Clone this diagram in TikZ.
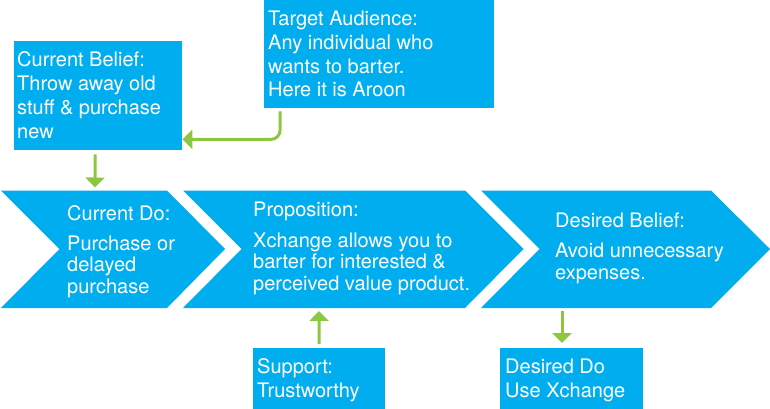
\documentclass[tikz,border=0pt]{standalone}
\usepackage{fontspec}
\setmainfont{TeX Gyre Heros}
\usetikzlibrary{arrows.meta}
\definecolor{cblue}{RGB}{0,174,239}
\definecolor{cgreen}{RGB}{141,198,63}
\tikzset{
  box/.style={fill=cblue, draw=none, inner sep=0pt, anchor=north west},
  chev/.style={fill=cblue, draw=none},
  txt/.style={text=white, inner sep=0pt, anchor=base west, align=left,
              font=\fontsize{20}{23.8}\selectfont},
  ctxt/.style={text=white, inner sep=0pt, anchor=base west, align=left,
              font=\fontsize{20}{21.5}\selectfont},
  arr/.style={draw=cgreen, line width=3pt, -{Triangle[width=19pt,length=10pt]}},
}
\begin{document}
\begin{tikzpicture}[x=1pt,y=-1pt]
\useasboundingbox (0,0) rectangle (770,409);
% chevrons
\path[chev] (1,190.5) -- (167,190.5) -- (225,249) -- (167,308) -- (1,308) -- (59.5,249) -- cycle;
\path[chev] (183,190.5) -- (465,190.5) -- (523.5,249) -- (465,308) -- (183,308) -- (241.5,249) -- cycle;
\path[chev] (481,190.5) -- (711,190.5) -- (770,249) -- (711,308) -- (481,308) -- (539.5,249) -- cycle;
\coordinate (cdotop) at (95,190.5);
\coordinate (propbot) at (319,308);
\coordinate (dbbot) at (562,308);
% boxes
\node[box, minimum width=168pt, minimum height=109pt] (cb) at (14,41) {};
\node[box, minimum width=230pt, minimum height=108pt] (ta) at (264,0) {};
\node[box, minimum width=132pt, minimum height=61pt] (sup) at (253,348) {};
\node[box, minimum width=143pt, minimum height=61pt] (ddo) at (500,348) {};
% texts (anchored at the baseline of the last line)
\node[txt] (cbt) at (17,138) {Current Belief:\\Throw away old\\stuff \& purchase\\new};
\node[txt] (tat) at (268,97) {Target Audience:\\Any individual who\\wants to barter.\\Here it is Aroon};
\node[txt] (supt) at (257,397) {Support:\\Trustworthy};
\node[txt] (ddot) at (505,397) {Desired Do\\Use Xchange};
\node[ctxt] (cdot) at (67,293) {Current Do:\\[8.5pt]Purchase or\\delayed\\purchase};
\node[ctxt] (propt) at (253,290) {Proposition:\\[9pt]Xchange allows you to\\barter for interested \&\\perceived value product.};
\node[ctxt] (dbt) at (555,279) {Desired Belief:\\[9pt]Avoid unnecessary\\expenses.};
% connectors
\draw[arr, rounded corners=9pt, shorten <=3pt] ([xshift=16pt]ta.south west) |- ([yshift=11pt]cb.south east);
\draw[arr, shorten <=4pt, shorten >=3pt] ([xshift=-3pt]cb.south) -- (cdotop);
\draw[arr, shorten <=4pt, shorten >=3pt] (sup.north) -- (propbot);
\draw[arr, shorten <=3pt, shorten >=5pt] (dbbot) -- (dbbot |- ddo.north);
\end{tikzpicture}
\end{document}
